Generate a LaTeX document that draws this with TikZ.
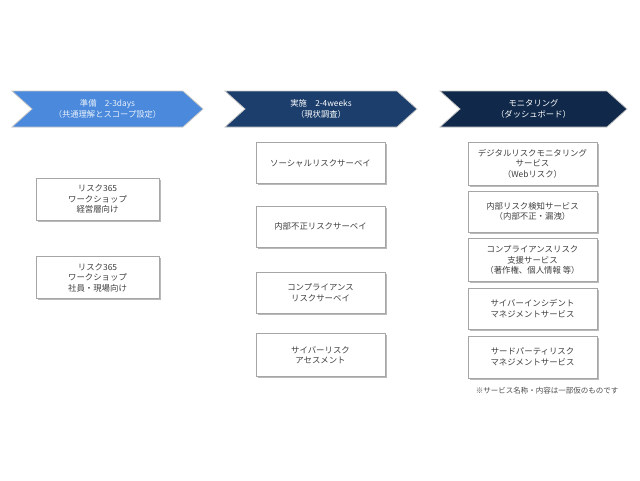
\documentclass[tikz,border=0pt]{standalone}
\usepackage{fontspec}
\setmainfont{Noto Sans CJK JP}
\usetikzlibrary{shapes.symbols,shadows,positioning}
\definecolor{prepblue}{HTML}{4A89DC}
\definecolor{execblue}{HTML}{1B3E6C}
\definecolor{moninavy}{HTML}{10294A}

\begin{document}
\begin{tikzpicture}[x=1pt,y=-1pt]
  \tikzstyle{phase}=[signal, signal from=west, signal to=east, signal pointer angle=84, draw=gray!45, line width=0.8pt, text=white, minimum height=36pt, align=center, font=\fontsize{8.3}{10.5}\selectfont, inner sep=0pt]
  \tikzstyle{item}=[rectangle, draw=gray!70, fill=white, drop shadow={shadow xshift=1.5pt, shadow yshift=-1.5pt, fill=gray!55, opacity=1}, align=center, text=black!75, font=\fontsize{8.4}{10.5}\selectfont, minimum width=129pt, minimum height=41pt, inner sep=0pt]

  \useasboundingbox (0,0) rectangle (640,480);

  % フェーズ
  \node[phase, fill=prepblue, text=white!88!prepblue, minimum width=191pt] (prep) at (107.5,109) {準備　2-3days\\（共通理解とスコープ設定）};
  \node[phase, fill=execblue, minimum width=192pt] (exec) at (321,109) {実施　2-4weeks\\（現状調査）};
  \node[phase, fill=moninavy, minimum width=187pt] (moni) at (533.5,109) {モニタリング\\（ダッシュボード）};

  % 準備
  \node[item, minimum width=123pt, minimum height=42pt] (ws1) at (97.5,199) {リスク365\\ワークショップ\\経営層向け};
  \node[item, minimum width=123pt, minimum height=42pt] (ws2) at (97.5,277.5) {リスク365\\ワークショップ\\社員・現場向け};

  % 実施
  \node[item] (sv1) at (320.5,163) {ソーシャルリスクサーベイ};
  \node[item] (sv2) at (320.5,226.5) {内部不正リスクサーベイ};
  \node[item] (sv3) at (320.5,292.5) {コンプライアンス\\リスクサーベイ};
  \node[item, minimum height=43pt] (sv4) at (320.5,355) {サイバーリスク\\アセスメント};

  % モニタリング
  \node[item, minimum height=43pt] (mn1) at (532.5,163.5) {デジタルリスクモニタリング\\サービス\\（Webリスク）};
  \node[item] (mn2) at (532.5,211.5) {内部リスク検知サービス\\（内部不正・漏洩）};
  \node[item, minimum height=43pt] (mn3) at (532.5,260) {コンプライアンスリスク\\支援サービス\\（著作権、個人情報 等）};
  \node[item] (mn4) at (532.5,308.5) {サイバーインシデント\\マネジメントサービス};
  \node[item, minimum height=42pt] (mn5) at (532.5,357) {サードパーティリスク\\マネジメントサービス};

  \node[font=\fontsize{7.5}{8}\selectfont, text=black!70] (note) at (547,391) {※サービス名称・内容は一部仮のものです};
\end{tikzpicture}
\end{document}
